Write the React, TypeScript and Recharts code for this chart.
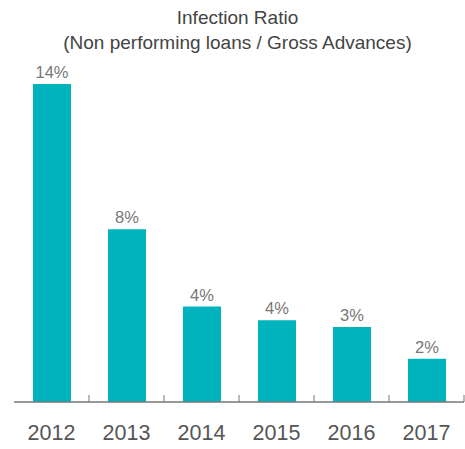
import React from 'react';
import { BarChart, Bar, XAxis, YAxis, LabelList } from 'recharts';

const years = ['2012', '2013', '2014', '2015', '2016', '2017'];
const ratios = [14.0, 7.6, 4.2, 3.6, 3.3, 1.9];
const ratioLabels = ['14%', '8%', '4%', '4%', '3%', '2%'];

const data = years.map((year, i) => ({ year, ratio: ratios[i], label: ratioLabels[i] }));

const WIDTH = 465;
const HEIGHT = 449;
const MARGIN = { top: 84, right: 1, left: 14, bottom: 0 };
const BAND = (WIDTH - MARGIN.left - MARGIN.right) / years.length;
const FONT = '"Liberation Sans", Arial, sans-serif';

// year label at band centre, tick mark at right edge of each band
const YearTick = (props: any) => {
  const { x, y, payload } = props;
  const edge = x + BAND / 2;
  return (
    <g>
      <line x1={edge} y1={y} x2={edge} y2={y - 7} stroke="#777" strokeWidth={1} />
      <text x={x} y={y + 38} textAnchor="middle" fontSize={21.5} fill="#555" fontFamily={FONT}>
        {payload.value}
      </text>
    </g>
  );
};

const App: React.FC = () => {
  return (
    <div style={{ position: 'absolute', left: 0, top: 0, width: WIDTH, height: HEIGHT, background: '#fff' }}>
      <div
        style={{
          position: 'absolute',
          left: 0,
          top: 5,
          width: WIDTH,
          textAlign: 'center',
          fontFamily: FONT,
          fontSize: 19,
          lineHeight: '25px',
          color: '#444',
          paddingLeft: 10,
          boxSizing: 'border-box',
        }}
      >
        Infection Ratio
        <br />
        (Non performing loans / Gross Advances)
      </div>
      <BarChart width={WIDTH} height={HEIGHT} data={data} margin={MARGIN}>
        <XAxis
          dataKey="year"
          height={47}
          tickSize={0}
          tickMargin={0}
          interval={0}
          tick={<YearTick />}
          axisLine={{ stroke: '#777', strokeWidth: 1.5 }}
        />
        <YAxis hide domain={[0, 14]} />
        <Bar dataKey="ratio" fill="#00B3BC" barSize={38} isAnimationActive={false}>
          <LabelList dataKey="label" position="top" offset={6} fill="#777" fontSize={16.5} fontFamily={FONT} />
        </Bar>
      </BarChart>
    </div>
  );
};

export default App;
